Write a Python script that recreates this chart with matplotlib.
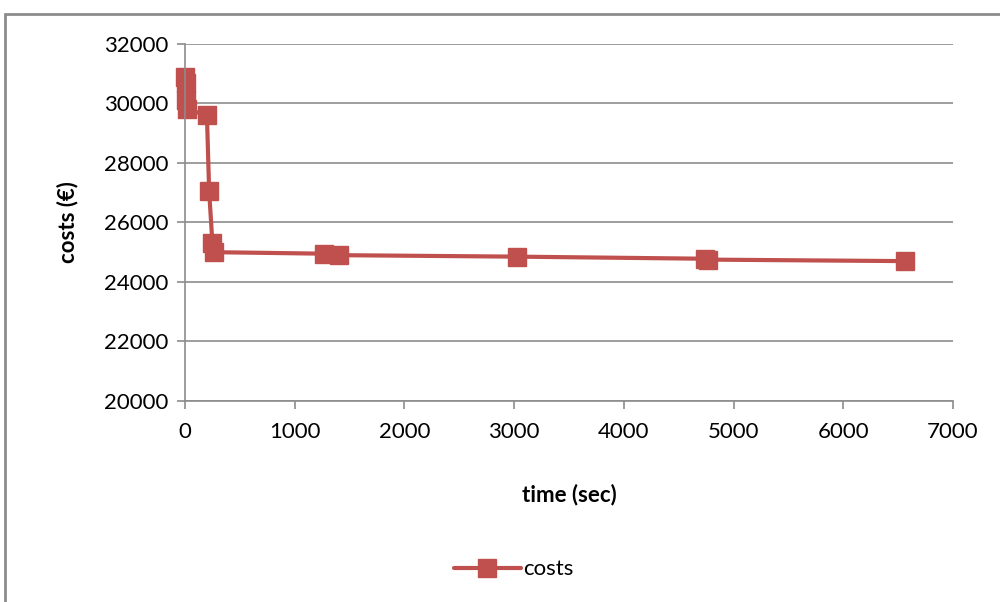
import numpy as np
import matplotlib.pyplot as plt
from matplotlib.patches import Rectangle

plt.rcParams['font.family'] = ['Lato', 'DejaVu Sans']

# data
time_sec = [0, 5, 10, 20, 200, 220, 250, 260, 1270, 1400, 3030, 4740, 4770, 6560]
costs = [30900, 30700, 30100, 29800, 29600, 27050, 25300, 25000, 24950, 24900, 24850, 24780, 24750, 24700]
xticks = np.arange(0, 7001, 1000)
yticks = np.arange(20000, 32001, 2000)

red = '#C0504D'

fig = plt.figure(figsize=(10, 6.02), dpi=100)
ax = fig.add_axes([0.185, 0.334, 0.768, 0.593])

ax.plot(time_sec, costs, color=red, lw=3, marker='s', ms=13, mec=red, mfc=red,
        label='costs', solid_joinstyle='round', solid_capstyle='round', clip_on=False)

ax.set_xlim(0, 7000)
ax.set_ylim(20000, 32000)
ax.set_xticks(xticks)
ax.set_yticks(yticks)
ax.grid(axis='y', color='#8c8c8c', lw=1.2)
ax.set_axisbelow(True)
for s in ['top', 'right']:
    ax.spines[s].set_visible(False)
for s in ['left', 'bottom']:
    ax.spines[s].set_color('#8c8c8c')
    ax.spines[s].set_linewidth(1.2)
ax.tick_params(axis='both', direction='out', length=6, color='#8c8c8c', width=1.2,
               labelsize=16, pad=6)
ax.tick_params(axis='x', pad=9)

ax.set_xlabel('time (sec)', fontsize=16, fontweight='bold', labelpad=30)
ax.set_ylabel('costs (€)', fontsize=16, fontweight='bold', labelpad=18)

leg = ax.legend(loc='center', bbox_to_anchor=(0.428, -0.472), frameon=False,
                fontsize=16, handlelength=3, handletextpad=0.1, markerscale=1)

fig.add_artist(Rectangle((0.005, -0.1), 1.2, 1.0767, transform=fig.transFigure,
                         fill=False, ec='#8c8c8c', lw=2))

fig.savefig('out.png', dpi=100)
